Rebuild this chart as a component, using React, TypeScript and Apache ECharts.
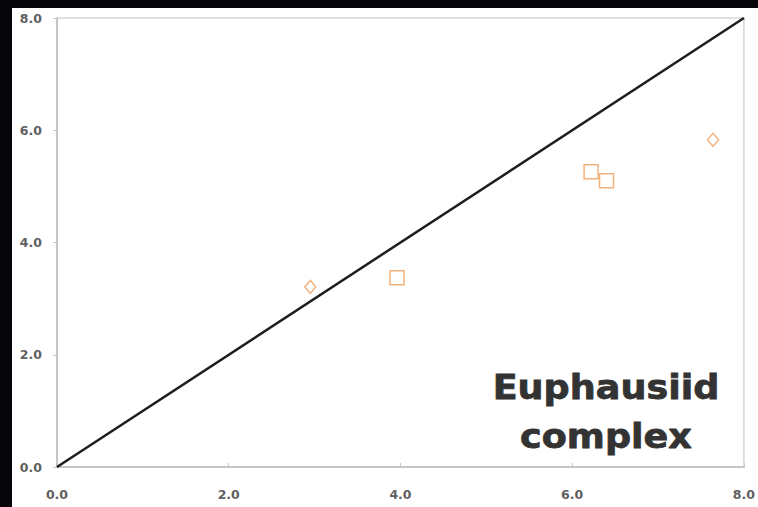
import React, { useEffect, useRef } from "react";
import * as echarts from "echarts";

// Observed vs. predicted values for the euphausiid complex
const squareX = [3.96, 6.22, 6.4];
const squareY = [3.37, 5.26, 5.1];
const diamondX = [2.95, 7.64];
const diamondY = [3.21, 5.83];
// 1:1 reference line end points
const oneToOne = [0, 8];
const axisMin = 0;
const axisMax = 8;
const axisStep = 2;
const labelLines = ["Euphausiid", "complex"];

const markerColor = "#ef9f5e";

export default function App() {
  const ref = useRef<HTMLDivElement>(null);

  useEffect(() => {
    if (!ref.current) return;
    const chart = echarts.init(ref.current, undefined, { renderer: "svg" });

    const axisCommon = {
      type: "value" as const,
      min: axisMin,
      max: axisMax,
      interval: axisStep,
      splitLine: { show: false },
      axisLine: { show: true, lineStyle: { color: "#bdbdbd", width: 1.5 } },
      axisLabel: {
        color: "#606060",
        fontSize: 12.5,
        fontWeight: "bold" as const,
        fontFamily: "DejaVu Sans",
        formatter: (v: number) => v.toFixed(1),
      },
    };

    // Two-line caption in the lower right of the plot
    const captionY = [379, 428];
    const caption = labelLines.map((line, i) => ({
      type: "text" as const,
      x: 594,
      y: captionY[i],
      scaleX: 1.075,
      style: {
        text: line,
        align: "center",
        verticalAlign: "middle",
        fill: "#333333",
        stroke: "#333333",
        lineWidth: 0.8,
        font: "bold 34px 'DejaVu Sans'",
      },
      z: 10,
    }));

    chart.setOption({
      animation: false,
      backgroundColor: "#ffffff",
      grid: {
        left: 45,
        top: 10,
        right: 14,
        bottom: 40,
        show: true,
        borderColor: "#d6d6d6",
        borderWidth: 1.5,
      },
      xAxis: {
        ...axisCommon,
        axisTick: { show: true, inside: true, length: 4, lineStyle: { color: "#c8c8c8" } },
        axisLabel: { ...axisCommon.axisLabel, margin: 21 },
      },
      yAxis: {
        ...axisCommon,
        axisTick: { show: true, inside: false, length: 4, lineStyle: { color: "#c8c8c8" } },
        axisLabel: { ...axisCommon.axisLabel, margin: 15 },
      },
      graphic: caption,
      series: [
        {
          type: "line",
          data: oneToOne.map((v) => [v, v]),
          symbol: "none",
          lineStyle: { color: "#1e1e1e", width: 2.5 },
          z: 3,
        },
        {
          type: "scatter",
          symbol: "rect",
          symbolSize: 14,
          data: squareX.map((x, i) => [x, squareY[i]]),
          itemStyle: { color: "#ffffff", borderColor: markerColor, borderWidth: 1.5 },
          z: 4,
        },
        {
          type: "scatter",
          symbol: "diamond",
          symbolSize: [11, 13],
          data: diamondX.map((x, i) => [x, diamondY[i]]),
          itemStyle: { color: "#ffffff", borderColor: markerColor, borderWidth: 1.5 },
          z: 4,
        },
      ],
    });

    return () => chart.dispose();
  }, []);

  return (
    <div
      style={{
        position: "fixed",
        left: 0,
        top: 0,
        width: 758,
        height: 507,
        background: "#05050a",
      }}
    >
      <div
        ref={ref}
        style={{ position: "absolute", left: 12, top: 8, width: 746, height: 499 }}
      />
    </div>
  );
}
